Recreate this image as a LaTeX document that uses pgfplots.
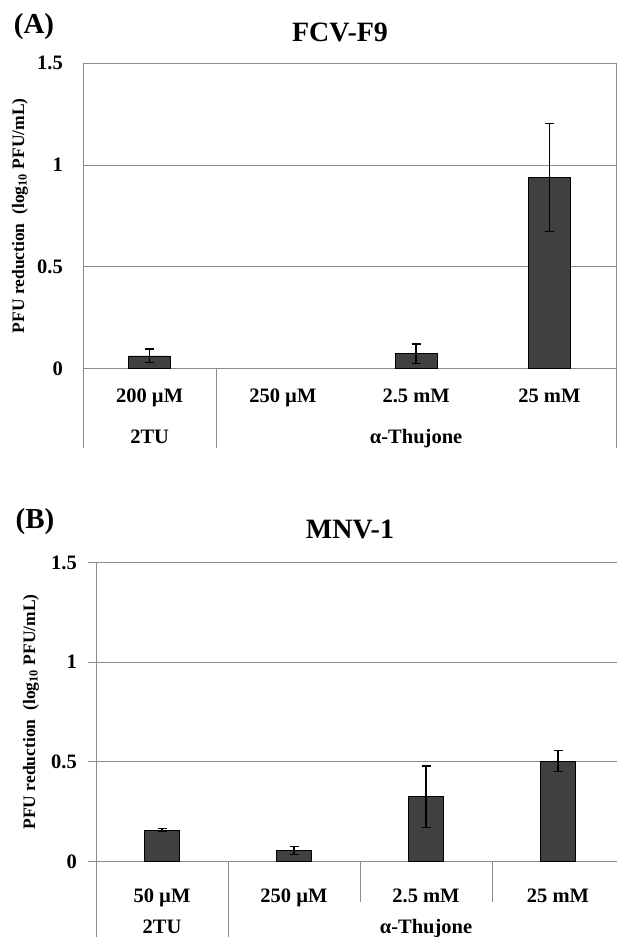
\documentclass[border=0pt]{standalone}
\usepackage{pgfplots}
\pgfplotsset{compat=1.18}
\usepackage{fontspec}
\setmainfont{Liberation Serif}

\definecolor{barfill}{HTML}{404040}
\definecolor{axgray}{HTML}{8C8C8C}

% data: x position, reduction, error
\pgfplotstableread{
x y e
0 0.061 0.034
2 0.072 0.047
3 0.939 0.265
}\fcvdata
\pgfplotstableread{
x y e
0 0.157 0.006
1 0.055 0.020
2 0.324 0.155
3 0.503 0.052
}\mnvdata

\pgfplotsset{
  panel/.style={
    scale only axis, clip=false,
    ymin=0, ymax=1.5,
    ytick={0,0.5,1,1.5}, yticklabels={0,0.5,1,1.5},
    xmin=-0.5, xtick={0,1,2,3},
    ymajorgrids,
    major grid style={axgray, line width=0.9pt},
    axis line style={axgray, line width=0.9pt},
    tick style={axgray, line width=0.9pt},
    xtick style={draw=none},
    tick label style={font=\fontsize{20.5}{24}\selectfont\bfseries},
    xticklabel style={anchor=base, inner sep=0pt},
    yticklabel style={anchor=east, inner sep=0pt},
    ylabel={PFU reduction\ \ (log\textsubscript{10} PFU/mL)},
  },
  bars/.style={
    ybar, fill=barfill, draw=black, line width=0.8pt, bar width=#1,
    error bars/.cd, y dir=both, y explicit,
    error bar style={black, line width=1.3pt},
    error mark options={rotate=90, black, mark size=4.5pt, line width=1.3pt},
  },
}
\tikzset{grp/.style={font=\fontsize{20.5}{24}\selectfont\bfseries, anchor=base, inner sep=0pt}}

\begin{document}
\begin{tikzpicture}
\useasboundingbox (0,0) rectangle (617pt,-937pt);

% (A) FCV-F9
\node[font=\fontsize{29}{32}\selectfont\bfseries] at (34pt,-27pt) {(A)};
\node[font=\fontsize{28}{32}\selectfont\bfseries] at (340pt,-32pt) {FCV-F9};
\begin{axis}[panel,
  at={(83pt,-368.3pt)}, anchor=south west,
  width=533pt, height=305pt, xmax=3.5,
  major tick length=0pt,
  xticklabel style={yshift=-34pt},
  yticklabel style={xshift=-20pt},
  every axis y label/.style={at={(rel axis cs:0,0.5)}, rotate=90, anchor=center,
    yshift=63pt, font=\fontsize{17.5}{20}\selectfont\bfseries},
  xticklabels={200 µM,250 µM,2.5 mM,25 mM},
]
\addplot[bars=42pt] table[x=x, y=y, y error=e] {\fcvdata};
\draw[axgray, line width=0.9pt] (axis cs:-0.5,0) -- ++(0pt,-80pt);
\draw[axgray, line width=0.9pt] (axis cs:0.5,0) -- ++(0pt,-80pt);
\draw[axgray, line width=0.9pt] (axis cs:3.5,0) -- ++(0pt,-80pt);
\node[grp] at ([yshift=-75pt]axis cs:0,0) {2TU};
\node[grp] at ([yshift=-75pt]axis cs:2,0) {α-Thujone};
\end{axis}

% (B) MNV-1
\node[font=\fontsize{29}{32}\selectfont\bfseries] at (35pt,-522pt) {(B)};
\node[font=\fontsize{28}{32}\selectfont\bfseries] at (350pt,-529pt) {MNV-1};
\begin{axis}[panel,
  at={(96pt,-861.3pt)}, anchor=south west,
  width=521pt, height=298.8pt, xmax=3.447,
  axis x line*=bottom, axis y line*=left,
  ytick pos=left, tick align=outside, major tick length=8pt,
  xticklabel style={yshift=-33.5pt},
  yticklabel style={xshift=-11pt},
  every axis y label/.style={at={(rel axis cs:0,0.5)}, rotate=90, anchor=center,
    yshift=65pt, font=\fontsize{17.5}{20}\selectfont\bfseries},
  xticklabels={50 µM,250 µM,2.5 mM,25 mM},
]
\addplot[bars=35pt] table[x=x, y=y, y error=e] {\mnvdata};
\draw[axgray, line width=0.9pt] (axis cs:-0.5,0) -- ++(0pt,-80pt);
\draw[axgray, line width=0.9pt] (axis cs:0.5,0) -- ++(0pt,-80pt);
\draw[axgray, line width=0.9pt] (axis cs:1.5,0) -- ++(0pt,-41pt);
\draw[axgray, line width=0.9pt] (axis cs:2.5,0) -- ++(0pt,-41pt);
\node[grp] at ([yshift=-72pt]axis cs:0,0) {2TU};
\node[grp] at ([yshift=-72pt]axis cs:2,0) {α-Thujone};
\end{axis}
\end{tikzpicture}
\end{document}
